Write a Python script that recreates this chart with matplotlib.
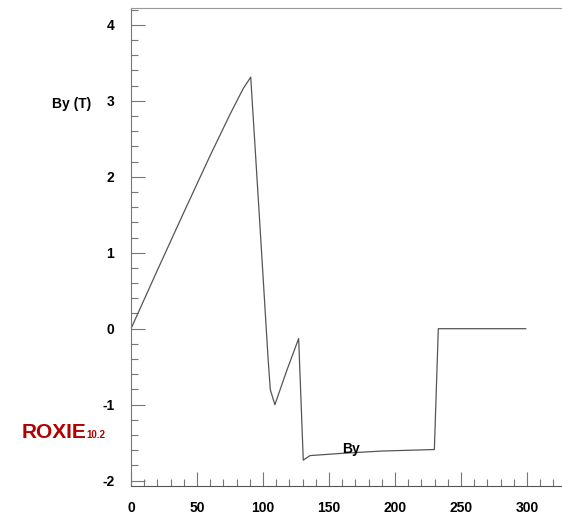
import matplotlib.pyplot as plt
from matplotlib.ticker import MultipleLocator

plt.rcParams['font.family'] = ['Liberation Sans', 'DejaVu Sans']
plt.rcParams['axes.unicode_minus'] = False

# position along path (mm) and field By (T)
pos = [0, 20, 40, 60, 75, 85, 90.7, 97.7, 103.8, 105.5, 109, 118, 127,
       130.5, 135.6, 160, 190, 229.8, 232.8, 260, 299]
by = [0, 0.77, 1.53, 2.28, 2.82, 3.16, 3.31, 1.35, -0.38, -0.8, -1.0, -0.55,
      -0.13, -1.73, -1.67, -1.64, -1.61, -1.59, 0.0, 0.0, 0.0]

fig = plt.figure(figsize=(5.62, 5.2), dpi=100)
ax = fig.add_axes([131/562, 1-486/520, 1-131/562, (486-8)/520])

ax.plot(pos, by, color="#555555", lw=0.9)
ax.set_xlim(0, 326.5)
ax.set_ylim(-2.07, 4.22)

ax.xaxis.set_major_locator(MultipleLocator(50))
ax.xaxis.set_minor_locator(MultipleLocator(10))
ax.yaxis.set_major_locator(MultipleLocator(1))
ax.yaxis.set_minor_locator(MultipleLocator(0.2))
ax.tick_params(which='both', direction='in', color='#777777', width=0.8,
               labelsize=10)
ax.tick_params(which='major', length=10, pad=11)
ax.tick_params(which='minor', length=5)
ax.tick_params(axis='y', pad=12)
for lab in ax.get_xticklabels() + ax.get_yticklabels():
    lab.set_fontweight('bold')

ax.spines['right'].set_visible(False)
ax.spines['top'].set_color('#999999')
ax.spines['left'].set_color('#777777')
ax.spines['bottom'].set_color('#555555')

fig.text(72/562, 1-104/520, "By (T)", ha='center', va='center',
         fontsize=10, fontweight='bold')
ax.text(167, -1.58, "By", ha='center', va='center', fontsize=10,
        fontweight='bold')
fig.text(22/562, 1-432/520, "ROXIE", ha='left', va='center', fontsize=15,
         fontweight='bold', color='#b00000')
fig.text(86/562, 1-435/520, "10.2", ha='left', va='center', fontsize=7,
         fontweight='bold', color='#b00000')

plt.savefig("out.png")
